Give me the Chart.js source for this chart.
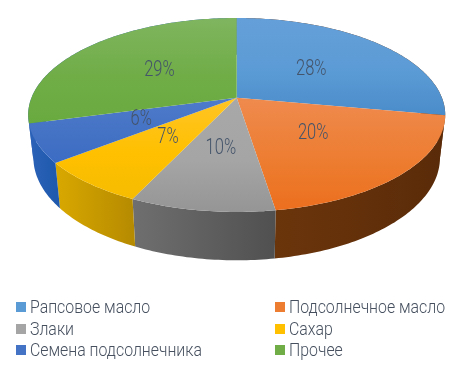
<!DOCTYPE html>
<html>
<head>
<meta charset="utf-8">
<style>
  html, body { margin: 0; padding: 0; background: #fff; }
  #wrap { position: relative; width: 470px; height: 368px; overflow: hidden; }
  #legend div { position: absolute; white-space: nowrap; font: 300 19px Roboto, sans-serif; color: #46505f; line-height: 22px; }
  #legend span { display: inline-block; transform: scaleX(0.835); transform-origin: left center; }
  #legend i { position: absolute; left: -14px; top: 6px; width: 10px; height: 10px; }
</style>
</head>
<body>
<div id="wrap">
  <canvas id="pie" width="470" height="368"></canvas>
  <div id="legend"></div>
</div>
<script src="https://cdn.jsdelivr.net/npm/chart.js@4"></script>
<script>
var categories = ['Рапсовое масло', 'Подсолнечное масло', 'Злаки', 'Сахар', 'Семена подсолнечника', 'Прочее'];
var shares = [27.9, 19.6, 9.5, 7.4, 6.4, 29.2];

var topColors = ['#5b9bd5', '#ed7d31', '#a5a5a5', '#ffc000', '#4472c4', '#70ad47'];
var topLight = ['#659fd9', '#ef8a4e', '#a8a8a8', '#ffc426', '#4f7bcb', '#7fb55f'];
var topShades = ['#4a8cca', '#ec6f1e', '#959595', '#f6bc00', '#3b6cc4', '#69aa3f'];
// first and last slice only show a sliver of wall at the edge, it takes the neighbour's colour
var wallLeft = ['#6b350b', '#6b350b', '#6f6f6f', '#d9a800', '#2b62b8', '#2b62b8'];
var wallRight = ['#6b350b', '#5a2b09', '#505050', '#b68b00', '#1f5aae', '#2b62b8'];

// Pie seen at an angle: unit circle projected with a little perspective
var view = { cx: 236.7, cy: 97.7, a: 205.2, b: 93.9, k: 0.178, depth: 41.5, shrinkX: 0.975, growY: 1.06 };

function project(angle, f, lower){
  var X = f * Math.cos(angle), Y = f * Math.sin(angle);
  var w = 1 - view.k * Y;
  var x = view.a * X / w, y = view.b * Y / w;
  if (lower) { return { x: view.cx + x * view.shrinkX, y: view.cy + y * view.growY + view.depth }; }
  return { x: view.cx + x, y: view.cy + y };
}

function rim(start, end){
  var pts = [], n = Math.max(2, Math.ceil((end - start) * 60));
  for (var i = 0; i <= n; i++) { pts.push(start + (end - start) * i / n); }
  return pts;
}

var tiltedPie = {
  id: 'tiltedPie',
  beforeDatasetsDraw: function(chart){
    var ctx = chart.ctx;
    var arcs = chart.getDatasetMeta(0).data;

    // side walls first, the top face covers whatever is behind
    arcs.forEach(function(arc, i){
      var angles = rim(arc.startAngle, arc.endAngle);
      var upper = angles.map(function(t){ return project(t, 1, false); });
      var lower = angles.map(function(t){ return project(t, 1, true); }).reverse();
      var xs = upper.map(function(p){ return p.x; });
      var g = ctx.createLinearGradient(Math.min.apply(null, xs), 0, Math.max.apply(null, xs), 0);
      g.addColorStop(0, wallLeft[i]);
      g.addColorStop(1, wallRight[i]);
      ctx.beginPath();
      upper.concat(lower).forEach(function(p, n){ n ? ctx.lineTo(p.x, p.y) : ctx.moveTo(p.x, p.y); });
      ctx.closePath();
      ctx.fillStyle = g;
      ctx.fill();
    });

    arcs.forEach(function(arc, i){
      var pts = rim(arc.startAngle, arc.endAngle).map(function(t){ return project(t, 1, false); });
      var ys = pts.map(function(p){ return p.y; }).concat(view.cy);
      var g = ctx.createLinearGradient(0, Math.min.apply(null, ys), 0, Math.max.apply(null, ys));
      g.addColorStop(0, topLight[i]);
      g.addColorStop(0.55, topColors[i]);
      g.addColorStop(1, topShades[i]);
      ctx.beginPath();
      ctx.moveTo(view.cx, view.cy);
      pts.forEach(function(p){ ctx.lineTo(p.x, p.y); });
      ctx.closePath();
      ctx.fillStyle = g;
      ctx.fill();
    });

    // percent labels halfway along each slice
    ctx.font = '300 22px Roboto, sans-serif';
    ctx.textAlign = 'center';
    ctx.textBaseline = 'middle';
    ctx.fillStyle = '#44546a';
    arcs.forEach(function(arc, i){
      var p = project((arc.startAngle + arc.endAngle) / 2, 0.5, false);
      ctx.save();
      ctx.translate(p.x, p.y);
      ctx.scale(0.75, 1);
      ctx.fillText(Math.round(shares[i]) + '%', 0, 0);
      ctx.restore();
    });
    return false;
  }
};

new Chart(document.getElementById('pie').getContext('2d'), {
  type: 'pie',
  data: {
    labels: categories,
    datasets: [{ data: shares, backgroundColor: topColors, borderWidth: 0 }]
  },
  options: {
    responsive: false,
    animation: false,
    plugins: { legend: { display: false }, tooltip: { enabled: false } }
  },
  plugins: [tiltedPie]
});

// Legend in two columns, filled row by row
var legendEl = document.getElementById('legend');
categories.forEach(function(name, i){
  var item = document.createElement('div');
  item.style.left = (i % 2 ? 289 : 30) + 'px';
  item.style.top = (296 + Math.floor(i / 2) * 21.7) + 'px';
  item.innerHTML = '<i style="background:' + topColors[i] + '"></i>';
  var text = document.createElement('span');
  text.textContent = name;
  item.appendChild(text);
  legendEl.appendChild(item);
});
</script>
</body>
</html>
